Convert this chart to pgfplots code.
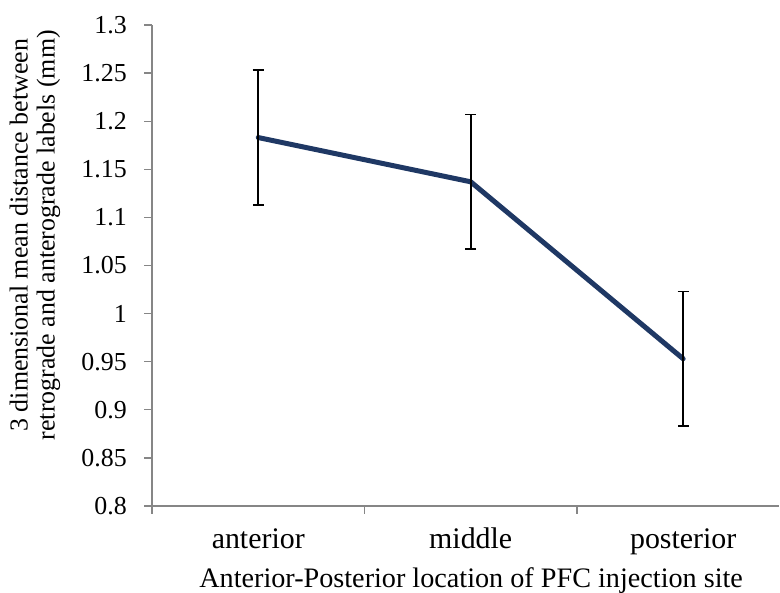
\documentclass[border=0pt]{standalone}
\usepackage{pgfplots}
\pgfplotsset{compat=1.18}
\usepackage{fontspec}
\setmainfont{Liberation Serif}
\definecolor{navy}{RGB}{31,56,100}
\definecolor{axgray}{RGB}{134,134,134}
\pgfplotstableread{
x y err
0 1.183 0.070
1 1.137 0.070
2 0.953 0.070
}\datatable
\begin{document}
\begin{tikzpicture}
\begin{axis}[
  at={(0,0)}, anchor=south west,
  scale only axis, width=627bp, height=481bp,
  xmin=-0.5, xmax=2.451, ymin=0.8, ymax=1.3,
  axis lines=left,
  axis line style={-, draw=axgray, line width=1.3bp},
  tick align=outside,
  major tick length=7.5bp,
  tick style={draw=axgray, line width=1.3bp},
  ytick={0.8,0.85,0.9,0.95,1,1.05,1.1,1.15,1.2,1.25,1.3},
  yticklabels={0.8,0.85,0.9,0.95,1,1.05,1.1,1.15,1.2,1.25,1.3},
  yticklabel style={font=\fontsize{26}{26}\selectfont, anchor=east, inner sep=0pt, xshift=-17.5bp},
  xtick={-0.5,0.5,1.5},
  xticklabels={},
  extra x ticks={0,1,2},
  extra x tick labels={anterior,middle,posterior},
  extra x tick style={major tick length=0pt,
     xticklabel style={font=\fontsize{30}{30}\selectfont, anchor=base, inner sep=0pt, yshift=-42bp}},
  clip=false,
  every axis x label/.style={at={(axis description cs:0.509,0)}, anchor=base, yshift=-81bp, font=\fontsize{28.3}{28.3}\selectfont},
  every axis y label/.style={at={(axis description cs:0,0.563)}, xshift=-117bp, rotate=90, anchor=center, align=center, font=\fontsize{26}{27}\selectfont},
  xlabel={Anterior-Posterior location of PFC injection site},
  ylabel={3 dimensional mean distance between\\retrograde and anterograde labels (mm)},
]
\addplot[navy, line width=5bp, line cap=round, line join=round, no markers,
  error bars/.cd, y dir=both, y explicit,
  error bar style={black, line width=1.8bp, line cap=butt},
  error mark=-,
  error mark options={rotate=90, black, line width=1.8bp, mark size=5.5bp}]
  table[x=x, y=y, y error=err] {\datatable};
\end{axis}
\pgfresetboundingbox
\path (-152bp,-87bp) rectangle (628bp,506bp);
\end{tikzpicture}
\end{document}
